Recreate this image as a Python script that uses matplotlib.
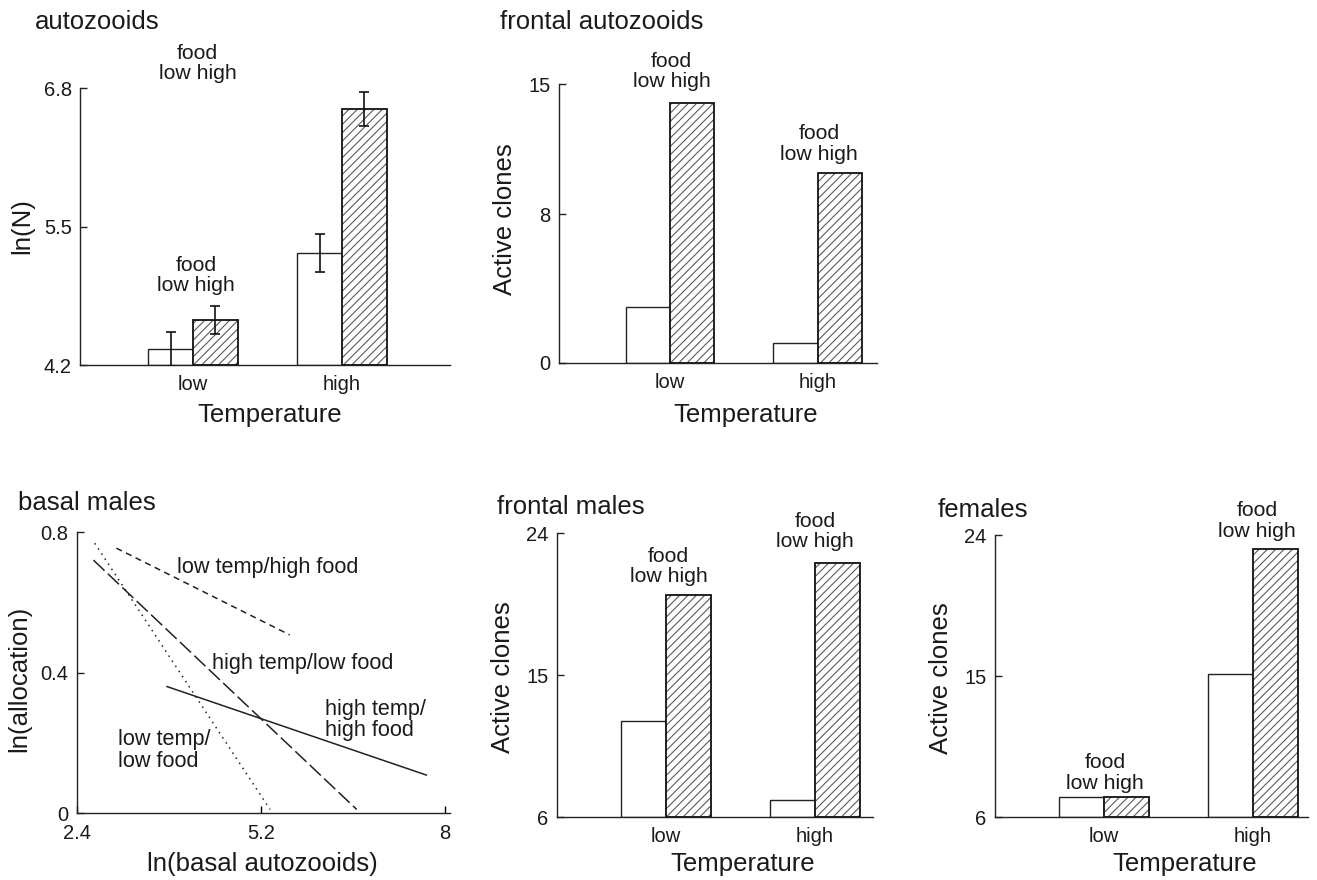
import matplotlib
matplotlib.use("Agg")
import matplotlib.pyplot as plt
import numpy as np

plt.rcParams['font.family'] = ['Liberation Sans', 'DejaVu Sans']
plt.rcParams['hatch.linewidth'] = 0.8
plt.rcParams['hatch.color'] = '#5a5a5a'

# ---------------- data ----------------
temps = ["low", "high"]

# autozooids ln(N)
auto_low_food = [4.35, 5.25]
auto_high_food = [4.62, 6.60]
auto_low_err = [0.16, 0.18]
auto_high_err = [0.13, 0.16]

# frontal autozooids (active clones)
fa_low_food = [3.0, 1.1]
fa_high_food = [14.0, 10.2]

# frontal males (active clones)
fm_low_food = [12.1, 7.1]
fm_high_food = [20.1, 22.1]

# females (active clones)
fe_low_food = [7.3, 15.1]
fe_high_food = [7.3, 23.1]

# basal males regression lines: (x start, x end), (y start, y end)
bm_names = ["low temp/high food", "high temp/low food", "low temp/low food", "high temp/high food"]
bm_x = [[3.00, 5.64], [2.65, 6.66], [2.67, 5.34], [3.77, 7.72]]
bm_y = [[0.754, 0.507], [0.72, 0.01], [0.768, 0.01], [0.36, 0.108]]

TXT = '#1a1a1a'
W, H = 1317, 880
fig = plt.figure(figsize=(W / 100, H / 100), dpi=100)
HATCH = '////'
BW = 0.3


def ax_px(x0, x1, y_top, y_bot):
    return fig.add_axes([x0 / W, 1 - y_bot / H, (x1 - x0) / W, (y_bot - y_top) / H])


def style(ax):
    for s in ['top', 'right']:
        ax.spines[s].set_visible(False)
    for s in ['left', 'bottom']:
        ax.spines[s].set_linewidth(1.0)
        ax.spines[s].set_color('#222222')
    ax.tick_params(axis='y', direction='in', length=5, width=1, labelsize=14.5,
                   colors='#222222', labelcolor=TXT, pad=6)
    ax.tick_params(axis='x', length=0, labelsize=14.5, labelcolor=TXT, pad=7)


def bars(ax, low, high, base, err_low=None, err_high=None):
    x = np.arange(len(temps))
    low = np.asarray(low, float)
    high = np.asarray(high, float)
    ax.bar(x - BW / 2, low - base, BW, bottom=base, color='white', edgecolor='#222222',
           linewidth=1.0, zorder=2)
    ax.bar(x + BW / 2, high - base, BW, bottom=base, color='white', edgecolor='#5a5a5a',
           hatch=HATCH, linewidth=0, zorder=2)
    ax.bar(x + BW / 2, high - base, BW, bottom=base, color='none', edgecolor='#111111',
           linewidth=1.3, zorder=3)
    if err_low is not None:
        ax.errorbar(x - BW / 2, low, yerr=err_low, fmt='none', ecolor='#111111', elinewidth=1.2,
                    capsize=3.5, capthick=1.2, zorder=4)
        ax.errorbar(x + BW / 2, high, yerr=err_high, fmt='none', ecolor='#111111', elinewidth=1.2,
                    capsize=3.5, capthick=1.2, zorder=4)
    ax.set_xticks(x)
    ax.set_xticklabels(temps)


def food_label(ax, x, y):
    ax.text(x, y, "food\nlow high", ha='center', va='center', fontsize=15.3, color=TXT,
            linespacing=1.1, clip_on=False, zorder=5)


# ---------------- autozooids ----------------
ax1 = ax_px(80, 450, 88, 365)
style(ax1)
bars(ax1, auto_low_food, auto_high_food, 4.2, auto_low_err, auto_high_err)
ax1.set_ylim(4.2, 6.8)
ax1.set_xlim(-0.758, 1.725)
ax1.set_yticks([4.2, 5.5, 6.8])
ax1.set_yticklabels(["4.2", "5.5", "6.8"])
food_label(ax1, 0.02, 5.04)
food_label(ax1, 0.03, 7.03)

# ---------------- frontal autozooids ----------------
ax2 = ax_px(559, 877, 84, 363)
style(ax2)
bars(ax2, fa_low_food, fa_high_food, 0)
ax2.set_ylim(0, 15)
ax2.set_xlim(-0.75, 1.40)
ax2.set_yticks([0, 8, 15])
food_label(ax2, 0.01, 15.67)
food_label(ax2, 1.01, 11.77)

# ---------------- basal males ----------------
ax3 = ax_px(77, 450, 532, 813)
style(ax3)
ax3.tick_params(axis='x', direction='in', length=5, width=1, pad=8)
ls_list = [(0, (4, 3)), (0, (10, 3)), (0, (1, 3)), '-']
for xs, ys, ls in zip(bm_x, bm_y, ls_list):
    ax3.plot(xs, ys, color='#222222', linestyle=ls, linewidth=1.1)
ax3.set_xlim(2.4, 8.08)
ax3.set_ylim(0, 0.8)
ax3.set_xticks([2.4, 5.2, 8])
ax3.set_xticklabels(["2.4", "5.2", "8"])
ax3.set_yticks([0, 0.4, 0.8])
ax3.set_yticklabels(["0", "0.4", "0.8"])
lab_kw = dict(fontsize=15.6, color=TXT, ha='left', va='center', linespacing=1.05)
ax3.text(3.92, 0.70, "low temp/high food", **lab_kw)
ax3.text(4.45, 0.427, "high temp/low food", **lab_kw)
ax3.text(6.17, 0.265, "high temp/\nhigh food", **lab_kw)
ax3.text(3.03, 0.177, "low temp/\nlow food", **lab_kw)

# ---------------- frontal males ----------------
ax4 = ax_px(557, 873, 533, 817)
style(ax4)
bars(ax4, fm_low_food, fm_high_food, 6)
ax4.set_ylim(6, 24)
ax4.set_xlim(-0.73, 1.39)
ax4.set_yticks([6, 15, 24])
food_label(ax4, 0.02, 21.87)
food_label(ax4, 1.0, 24.09)

# ---------------- females ----------------
ax5 = ax_px(995, 1308, 535, 817)
style(ax5)
bars(ax5, fe_low_food, fe_high_food, 6)
ax5.set_ylim(6, 24)
ax5.set_xlim(-0.73, 1.37)
ax5.set_yticks([6, 15, 24])
food_label(ax5, 0.01, 8.81)
food_label(ax5, 1.03, 24.89)

# ---------------- titles & axis labels ----------------
def ftext(px, py, s, size=18.5, rot=0, ha='left'):
    fig.text(px / W, 1 - py / H, s, fontsize=size, color=TXT, rotation=rot, ha=ha, va='center')

ftext(35, 22, "autozooids")
ftext(500, 22, "frontal autozooids")
ftext(18, 503, "basal males")
ftext(497, 507, "frontal males")
ftext(938, 510, "females")

ftext(22, 226, "ln(N)", rot=90, ha='center')
ftext(270, 415, "Temperature", ha='center')
ftext(505, 219, "Active clones", rot=90, ha='center')
ftext(746, 415, "Temperature", ha='center')
ftext(19, 679, "ln(allocation)", rot=90, ha='center')
ftext(262, 864, "ln(basal autozooids)", ha='center')
ftext(503, 677, "Active clones", rot=90, ha='center')
ftext(743, 864, "Temperature", ha='center')
ftext(941, 678, "Active clones", rot=90, ha='center')
ftext(1185, 864, "Temperature", ha='center')

fig.savefig("out.png", dpi=100, facecolor='white')
